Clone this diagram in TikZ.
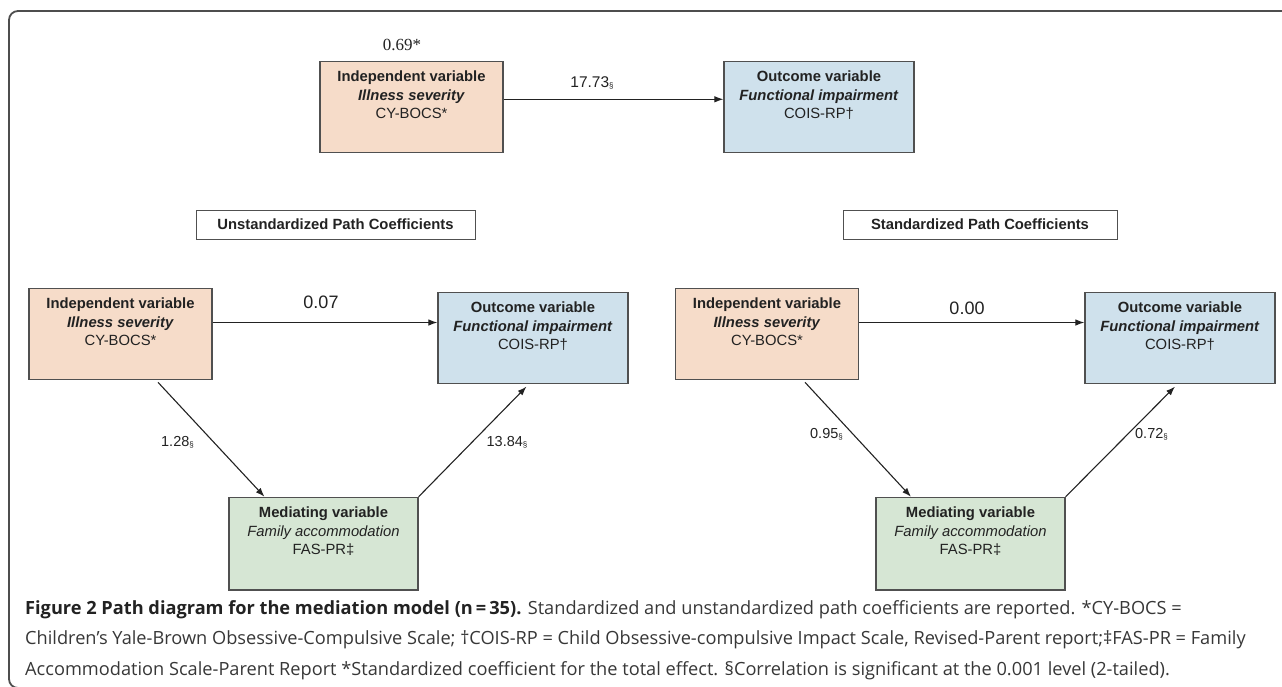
\documentclass[tikz,border=0pt]{standalone}
\usepackage{fontspec}
\setmainfont{Liberation Sans}
\newfontfamily\numfont{Liberation Serif}
\newfontfamily\capfont{Open Sans}
\usetikzlibrary{positioning,arrows.meta}

\definecolor{indepfill}{RGB}{246,220,201}
\definecolor{outfill}{RGB}{207,225,236}
\definecolor{medfill}{RGB}{214,230,212}
\definecolor{boxline}{RGB}{80,80,80}
\definecolor{ink}{RGB}{34,34,34}
\definecolor{capink}{RGB}{55,55,55}

\tikzstyle{varbox} = [rectangle,draw=boxline,line width=1.2pt,minimum height=91pt,inner sep=0pt]
\tikzstyle{indepbox} = [varbox,fill=indepfill,minimum width=183pt]
\tikzstyle{outbox} = [varbox,fill=outfill,minimum width=190pt]
\tikzstyle{medbox} = [varbox,fill=medfill,minimum width=189pt,minimum height=92.7pt]
\tikzstyle{boxtext} = [align=center,text=ink,inner sep=0pt,font=\fontsize{14.8}{18.2}\selectfont]
\tikzstyle{headbox} = [rectangle,draw=boxline,line width=1pt,minimum height=29pt,text=ink,font=\bfseries\fontsize{14.8}{17}\selectfont]
\tikzstyle{coef} = [text=ink,font=\fontsize{14.5}{17}\selectfont]
\tikzstyle{bigcoef} = [text=ink,font=\fontsize{18}{20}\selectfont]
\tikzstyle{patharrow} = [-{Latex[length=9pt,width=6.5pt]},line width=1.1pt,draw=ink]

\newcommand{\sig}{\raisebox{-1pt}{\fontsize{8}{8}\selectfont\S}}

\begin{document}
\begin{tikzpicture}[x=1pt,y=-1pt]
\useasboundingbox (0,0) rectangle (1282,686);

% frame
\draw[line width=1.8pt,draw=ink!80,rounded corners=9pt] (1290,11) -- (9,11) -- (9,688) -- (40,688);

% total effect
\node[indepbox] (ivT) at (411.5,106.7) {};
\node[outbox] (dvT) at (819,106.7) {};
\node[boxtext,below=10.3pt of ivT.north] (ivTt) {\textbf{Independent variable}\\\textbf{\itshape Illness severity}\\CY-BOCS*};
\node[boxtext,below=10.3pt of dvT.north] (dvTt) {\textbf{Outcome variable}\\\textbf{\itshape Functional impairment}\\COIS-RP†};
\node[text=ink,font=\numfont\fontsize{17}{20}\selectfont] (totstd) at (402,45) {0.69*};
\node[coef,font=\fontsize{15.5}{17}\selectfont] (totraw) at (592,83.3) {17.73\sig};
\draw[patharrow] ([yshift=7.4pt]ivT.east) -- ([yshift=7.4pt]dvT.west);

% headers
\node[headbox,minimum width=279pt] (hraw) at (335.5,224.5) {Unstandardized Path Coefficients};
\node[headbox,minimum width=274pt] (hstd) at (980,224.5) {Standardized Path Coefficients};

% unstandardized model
\node[indepbox] (ivL) at (120.5,333.8) {};
\node[outbox] (dvL) at (533,337.8) {};
\node[medbox] (mdL) at (323.5,543.7) {};
\node[boxtext,below=10.3pt of ivL.north] (ivLt) {\textbf{Independent variable}\\\textbf{\itshape Illness severity}\\CY-BOCS*};
\node[boxtext,below=10.3pt of dvL.north] (dvLt) {\textbf{Outcome variable}\\\textbf{\itshape Functional impairment}\\COIS-RP†};
\node[boxtext,below=10.3pt of mdL.north] (mdLt) {\textbf{Mediating variable}\\\itshape Family accommodation\\FAS-PR‡};
\draw[patharrow] ([yshift=11.3pt]ivL.east) -- ([yshift=15.3pt]dvL.west);
\draw[patharrow] ([xshift=37.5pt,yshift=-2.4pt]ivL.south) -- ([xshift=-59pt]mdL.north);
\draw[patharrow] (mdL.north east) -- ([xshift=-6.5pt,yshift=-2.7pt]dvL.south);
\node[bigcoef] (cL) at (321,302.3) {0.07};
\node[coef] (aL) at (177.5,442.3) {1.28\sig};
\node[coef] (bL) at (507,442.3) {13.84\sig};

% standardized model
\node[indepbox] (ivR) at (767,333.8) {};
\node[outbox] (dvR) at (1180,337.8) {};
\node[medbox] (mdR) at (970.5,543.7) {};
\node[boxtext,below=10.3pt of ivR.north] (ivRt) {\textbf{Independent variable}\\\textbf{\itshape Illness severity}\\CY-BOCS*};
\node[boxtext,below=10.3pt of dvR.north] (dvRt) {\textbf{Outcome variable}\\\textbf{\itshape Functional impairment}\\COIS-RP†};
\node[boxtext,below=10.3pt of mdR.north] (mdRt) {\textbf{Mediating variable}\\\itshape Family accommodation\\FAS-PR‡};
\draw[patharrow] ([yshift=11.3pt]ivR.east) -- ([yshift=15.3pt]dvR.west);
\draw[patharrow] ([xshift=38pt,yshift=-2.4pt]ivR.south) -- ([xshift=-59.5pt]mdR.north);
\draw[patharrow] (mdR.north east) -- ([xshift=-5pt,yshift=-2.7pt]dvR.south);
\node[bigcoef] (cR) at (967,308.3) {0.00};
\node[coef] (aR) at (826.5,434) {0.95\sig};
\node[coef] (bR) at (1151.5,434) {0.72\sig};

% caption
\node[anchor=north west,align=left,inner sep=0pt,text=capink,font=\capfont\fontsize{18.2}{30.5}\selectfont] (caption) at (25,600) {{\color{ink}\bfseries Figure 2 Path diagram for the mediation model (n\,=\,35).} Standardized and unstandardized path coefficients are reported. *CY-BOCS =\\Children’s Yale-Brown Obsessive-Compulsive Scale; †COIS-RP = Child Obsessive-compulsive Impact Scale, Revised-Parent report;‡FAS-PR = Family\\Accommodation Scale-Parent Report *Standardized coefficient for the total effect. §Correlation is significant at the 0.001 level (2-tailed).};

\end{tikzpicture}
\end{document}
